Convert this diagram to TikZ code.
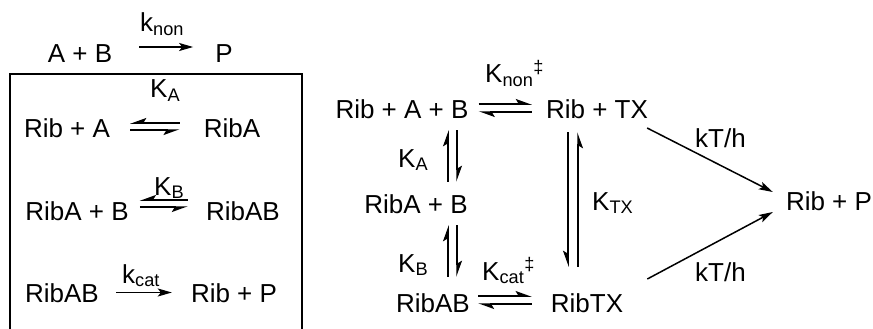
\documentclass[tikz,border=0pt]{standalone}
\usepackage{fontspec}
\setmainfont{Liberation Sans}
\usetikzlibrary{arrows.meta}

\tikzset{
	species/.style={inner sep=0pt, anchor=base, text height=19pt, text depth=0pt, font=\fontsize{26}{30}\selectfont},
	rate/.style={inner sep=0pt, anchor=base west, font=\fontsize{26}{30}\selectfont},
	rxn/.style={line width=1.5pt, -{Stealth[length=14pt,width=8pt,inset=3pt]}},
	hp/.style={line width=1.5pt, -{Stealth[left,length=14pt,width=10pt,inset=3pt]}},
	hpr/.style={line width=1.5pt, -{Stealth[right,length=14pt,width=10pt,inset=3pt]}},
}

\begin{document}
\begin{tikzpicture}[x=1pt,y=-1pt]
	\useasboundingbox (0,0) rectangle (873,329);

	% uncatalysed reaction and the boxed mechanism
	\node[species] (ab0) at (80,63) {A + B};
	\node[species] (p0) at (224,63) {P};
	\node[rate] (knon) at (140,32) {k\textsubscript{non}};
	\draw[rxn] ([xshift=27pt,yshift=6.5pt]ab0.east) -- ([xshift=-22pt,yshift=6.5pt]p0.west);

	\draw[line width=1.3pt] (10,340) -- (10,74) -- (302,74) -- (302,340);

	\node[species] (ribA1) at (67,137) {Rib + A};
	\node[species] (ribA) at (232,137) {RibA};
	\node[rate] (kA1) at (150,98) {K\textsubscript{A}};
	\draw[hpr] ([xshift=-24pt,yshift=4.5pt]ribA.west) -- ([xshift=20pt,yshift=4.5pt]ribA1.east);
	\draw[hpr] ([xshift=20pt,yshift=-2.5pt]ribA1.east) -- ([xshift=-24pt,yshift=-2.5pt]ribA.west);

	\node[species] (ribAB1) at (77,220) {RibA + B};
	\node[species] (ribAB) at (243,220) {RibAB};
	\node[rate] (kB1) at (154,195) {K\textsubscript{B}};
	\draw[hpr] ([xshift=-18pt,yshift=10.5pt]ribAB.west) -- ([xshift=11pt,yshift=10.5pt]ribAB1.east);
	\draw[hpr] ([xshift=11pt,yshift=3.5pt]ribAB1.east) -- ([xshift=-18pt,yshift=3.5pt]ribAB.west);

	\node[species] (ribABc) at (62,302) {RibAB};
	\node[species] (ribP) at (234,302) {Rib + P};
	\node[rate] (kcat) at (122,283) {k\textsubscript{cat}};
	\draw[rxn] ([xshift=17pt]ribABc.east) -- ([xshift=-19pt]ribP.west);

	% thermodynamic cycle
	\node[species] (ribab) at (402,118) {Rib + A + B};
	\node[species] (ribtx) at (597,118) {Rib + TX};
	\node[species] (ribab2) at (416,213) {RibA + B};
	\node[species] (ribabm) at (433,312) {RibAB};
	\node[species] (ribtxc) at (587,312) {RibTX};
	\node[species] (ribp) at (829,210) {Rib + P};

	\node[rate] (knonts) at (485,83) {K\textsubscript{non}\textsuperscript{‡}};
	\node[rate] (kA2) at (398,167) {K\textsubscript{A}};
	\node[rate] (kB2) at (398,272) {K\textsubscript{B}};
	\node[rate] (kcatts) at (482,280) {K\textsubscript{cat}\textsuperscript{‡}};
	\node[rate] (ktx) at (592,210) {K\textsubscript{TX}};
	\node[rate] (kth1) at (695,147) {kT/h};
	\node[rate] (kth2) at (695,281) {kT/h};

	\draw[hp] ([xshift=10pt,yshift=4.5pt]ribab.east) -- ([xshift=-14pt,yshift=4.5pt]ribtx.west);
	\draw[hp] ([xshift=-14pt,yshift=-3.5pt]ribtx.west) -- ([xshift=10pt,yshift=-3.5pt]ribab.east);

	\draw[hp] ([xshift=32pt,yshift=12pt]ribab2.north) -- ([xshift=46pt,yshift=-12pt]ribab.south);
	\draw[hp] ([xshift=55pt,yshift=-12pt]ribab.south) -- ([xshift=41pt,yshift=12pt]ribab2.north);

	\draw[hp] ([xshift=15pt,yshift=16pt]ribabm.north) -- ([xshift=32pt,yshift=-12pt]ribab2.south);
	\draw[hp] ([xshift=41pt,yshift=-12pt]ribab2.south) -- ([xshift=24pt,yshift=16pt]ribabm.north);

	\draw[hp] ([xshift=8pt,yshift=6.5pt]ribabm.east) -- ([xshift=-19pt,yshift=6.5pt]ribtxc.west);
	\draw[hp] ([xshift=-19pt,yshift=-1.5pt]ribtxc.west) -- ([xshift=8pt,yshift=-1.5pt]ribabm.east);

	\draw[hpr] ([xshift=-29pt,yshift=-14pt]ribtx.south) -- ([xshift=-19pt,yshift=26pt]ribtxc.north);
	\draw[hpr] ([xshift=-9pt,yshift=26pt]ribtxc.north) -- ([xshift=-19pt,yshift=-14pt]ribtx.south);

	\draw[rxn] ([xshift=-1pt,yshift=-19.5pt]ribtx.east) -- ([xshift=-13pt,yshift=8.5pt]ribp.west);
	\draw[rxn] ([xshift=24pt,yshift=23.5pt]ribtxc.east) -- ([xshift=-13pt,yshift=-11.5pt]ribp.west);
\end{tikzpicture}
\end{document}
